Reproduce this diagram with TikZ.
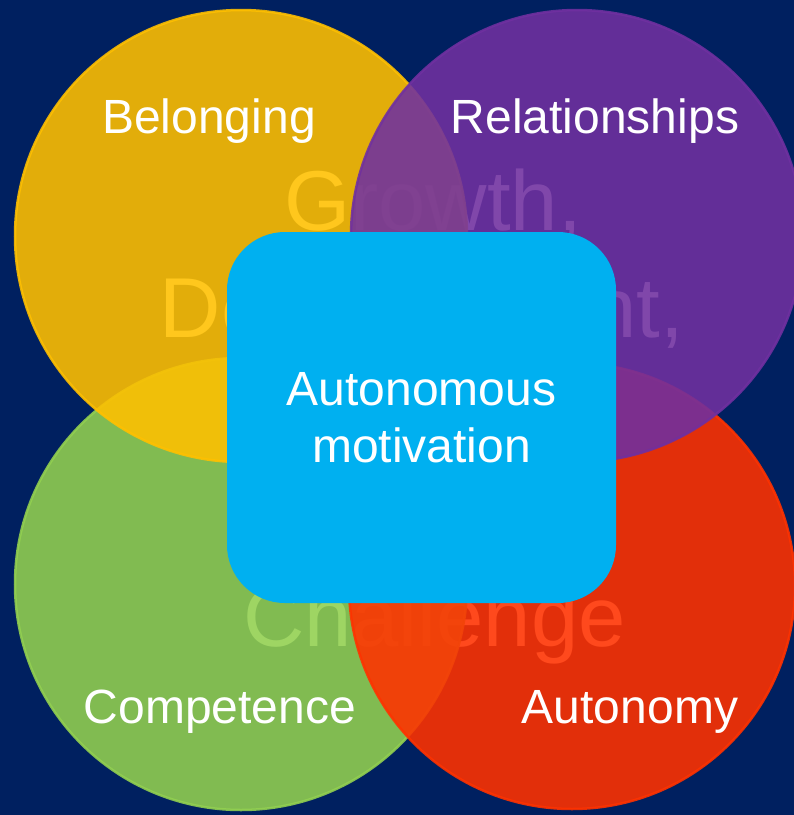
\documentclass[tikz,border=0pt]{standalone}
\usepackage{fontspec}
\setmainfont{Liberation Sans}
\definecolor{navy}{HTML}{002060}
\definecolor{cyellow}{HTML}{FFC000}
\definecolor{cpurple}{HTML}{7030A0}
\definecolor{cgreen}{HTML}{92D050}
\definecolor{cred}{HTML}{FF3200}
\definecolor{cblue}{HTML}{00B0F0}
\begin{document}
\begin{tikzpicture}[x=1pt,y=-1pt,
  ring/.style={fill=#1,draw=#1,line width=2.5pt,fill opacity=0.886,draw opacity=0.886},
  bigtext/.style={anchor=base,inner sep=0pt,text=white,font=\fontsize{85}{100}\selectfont},
  label/.style={anchor=base,inner sep=0pt,text=white,font=\fontsize{48}{57}\selectfont},
  core/.style={fill=cblue,rounded corners=58pt,minimum width=389pt,minimum height=371pt,inner sep=0pt,
    text=white,align=center,font=\fontsize{48}{57}\selectfont}]
\fill[navy] (0,0) rectangle (794,815);
\useasboundingbox (0,0) rectangle (794,815);
\clip (0,0) rectangle (794,815);
% background words (beneath the translucent circles)
\node[bigtext] (growth) at (433,230) {Growth,};
\node[bigtext] (devel) at (422,337) {Development,};
\node[bigtext] (chall) at (434.5,646) {Challenge};
% circles
\path[ring=cgreen] (241,584) circle[radius=226pt];
\path[ring=cred] (572,586) circle[radius=223pt];
\path[ring=cyellow] (241,236) circle[radius=226pt];
\path[ring=cpurple] (577,236) circle[radius=226pt];
% labels
\node[label] (belong) at (209,133) {Belonging};
\node[label] (relat) at (595,133) {Relationships};
\node[label] (compet) at (220,723) {Competence};
\node[label] (auton) at (630,723) {Autonomy};
% centre box
\node[core] (motiv) at (421.5,417.5) {Autonomous\\motivation};
\end{tikzpicture}
\end{document}
